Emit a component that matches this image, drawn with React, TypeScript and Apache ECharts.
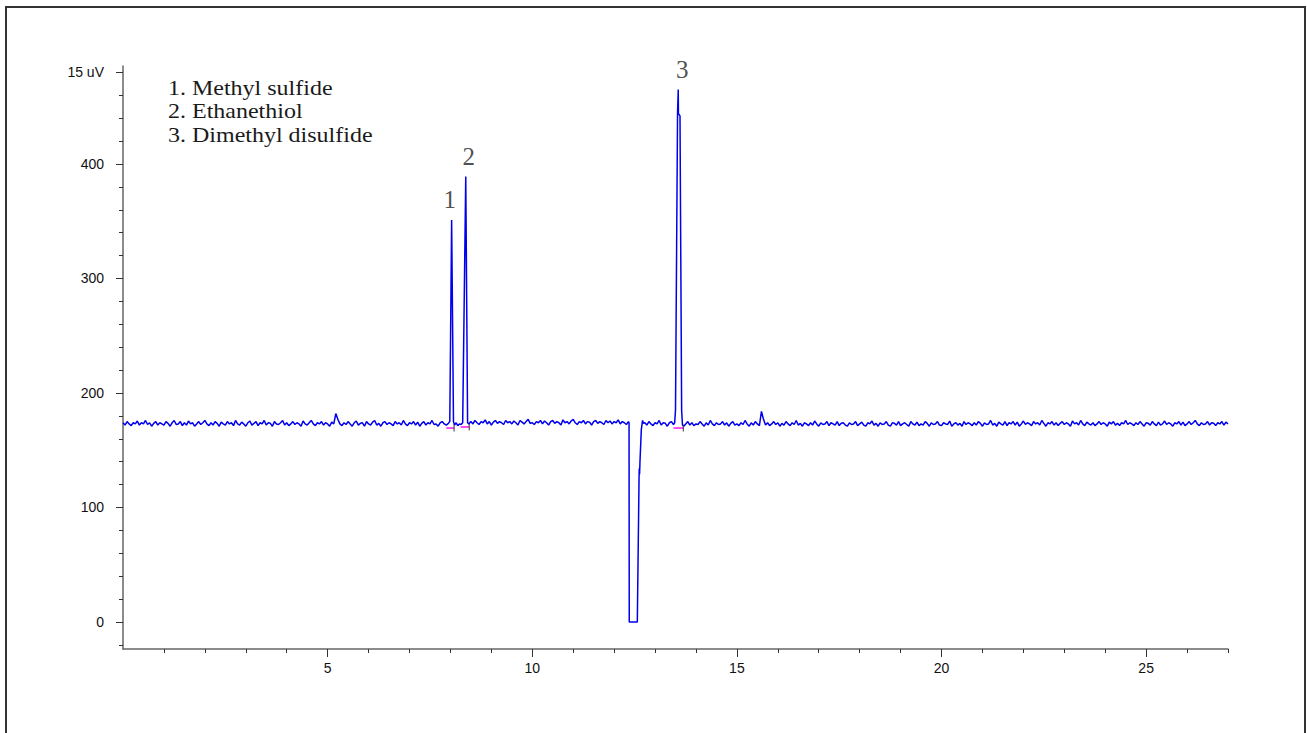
import { useEffect, useRef } from "react";
import * as echarts from "echarts";

// ---- data (minutes, µV-scale units) ----
const sampleStep = 0.05;

const baselineStartA = 0;
const baselineA = [
  174,172,175,173,171.5,174,173,175.5,172,174,173,176,172.5,174,171,173.5,175,172,174,173,
  172,175,173.5,171,174,176,172.5,173,175,171.5,174,172,175.5,173,174,171,173,175,172.5,174,
  176,173,171.5,174,172,175,173.5,171,174.5,173,172,175,173,174,171.5,176,173,172,174.5,173,
  171,174,175.5,172,173.5,175,171.5,174,173,176,172,174,173.5,171,175,173,172.5,174,176,172,
  174,171.5,173,175,172.5,174,173,171,175.5,173,172,174,176,173,171.5,174,173,175,172,174,
  173,171,174.5,173,182,177,173,171.5,174,172.5,175,173,171,174,175.5,172,173.5,174,171,175,
  173,172,174.5,176,172,173.5,171,174,175,172.5,174,173,171.5,175,173,174,172,176,173,171.5,
  174,173,175,172,174.5,171,173.5,175,172,174,173,176,172.5,173,171,174,175,173,172,
];

const peaks12Points: [number, number][] = [
  [7.95, 173.5], [7.985, 175], [8.03, 351], [8.075, 175], [8.1, 172], [8.14, 174],
  [8.18, 171.5], [8.22, 173], [8.26, 172.5], [8.3, 174], [8.375, 389], [8.42, 174], [8.45, 173],
];

const baselineStartB = 8.5;
const baselineB = [
  175,173,176,174,172.5,175,174,176.5,173,175,172,174.5,176,173.5,175,174,172.5,176,174,175,
  173,175.5,174,172,176,174.5,173,175,177,173.5,174,172.5,175,174,176,173,175.5,174,172,175,
  176,173.5,175,174,172,176.5,174,175,173,175.5,177,174,172.5,175,174,176,173,175,174.5,172,
  175,176,173.5,175,174,172.5,176,174,175.5,173,175,174,176.5,173,175,174,172.5,175,
];

const dipPoints: [number, number][] = [
  [12.365, 174], [12.37, 0], [12.567, 0], [12.61, 128], [12.615, 134], [12.622, 129],
  [12.632, 140], [12.665, 168], [12.695, 176], [12.72, 173.5],
];

const baselineStartC = 12.75;
const baselineC = [174,172,175,173,171.5,174,173,176,172,174,173.5,171,174,175,172.5];

const peak3Points: [number, number][] = [
  [13.48, 174], [13.5, 185], [13.55, 444], [13.567, 465], [13.572, 444], [13.61, 442],
  [13.65, 185], [13.67, 172],
];

const baselineStartD = 13.7;
const baselineD = [
  171,173,175,172,174,171.5,173,172.5,175,173,171,174,172,176,173,171.5,174,172.5,173,175,
  172,174,171,173.5,175,172,173,171.5,174,172.5,176,173,171,174,172,175,173,171.5,184,177,
  172,174,171.5,173,175,172.5,174,171,173.5,172,175,173,171.5,174,172.5,176,172,173.5,171,174,
  173,171.5,174,172,175.5,173,171,174,172.5,173,175,171.5,174,173,172,175,171.5,173.5,174,172,
  171,174,172.5,173,175,171.5,173,174.5,172,171,174,173,175.5,172,173.5,171,174,172.5,173,175,
  172,171,174,173.5,172,175,171.5,173,174,172.5,171,175,173,172,174.5,171.5,173,172,175,173.5,
  171,174,172.5,173,175,172,171.5,174,173,172.5,175.5,171,173,174,172,173.5,171,175,172.5,174,
  173,171.5,174,172,175,173.5,171,174,172.5,173,176,172,173.5,171,174.5,173,172,175,171.5,174,
  173,175,172,174.5,171,173,175.5,172.5,174,173,171.5,175,173,174,172,176,173.5,171,174,173,
  175,172,174,171.5,173.5,175,172.5,174,173,171,175.5,173,174,172,176,173,171.5,174.5,173,172,
  174,171.5,173,175,172.5,174,173,171,174.5,173,175,172,173.5,171.5,174,173,176,172.5,174,173,
  171.5,174,172.5,175,173,171,174,173.5,172,175,173,171.5,174.5,172,173,175.5,172.5,174,173,171,
  174,173,175,172,174.5,171.5,173,175,172.5,174,176,173,171.5,174,172.5,173,175,172,174,173.5,
  171.5,174,173,175,172,174.5,173,
];

const integrationStarts = [7.9, 8.25, 13.45];
const integrationEnds = [8.09, 8.46, 13.69];
const integrationLevels = [169.4, 170.3, 169.4];

const peakNames = ["1", "2", "3"];
const peakTimes = [8.03, 8.375, 13.567];
const peakHeights = [351, 389, 465];

const legendLines = ["1. Methyl sulfide", "2. Ethanethiol", "3. Dimethyl disulfide"];

const xMajorTicks = [5, 10, 15, 20, 25];
const xMinorTicks = [1, 2, 3, 4, 6, 7, 8, 9, 11, 12, 13, 14, 16, 17, 18, 19, 21, 22, 23, 24, 26, 27];
const yMajorTicks = [0, 100, 200, 300, 400, 480];
const yMinorTicks = [-20, 20, 40, 60, 80, 120, 140, 160, 180, 220, 240, 260, 280, 320, 340, 360, 380, 420, 440, 460];
const yTopLabel = "15 uV";

const X_MIN = 0;
const X_MAX = 27;
const Y_MIN = -23.6;
const Y_MAX = 485.6;

function segment(start: number, values: number[]): [number, number][] {
  return values.map((v, i) => [Number((start + i * sampleStep).toFixed(3)), v]);
}

export default function App() {
  const ref = useRef<HTMLDivElement>(null);

  useEffect(() => {
    document.body.style.margin = "0";
    if (!ref.current) return;
    const chart = echarts.init(ref.current, undefined, { renderer: "svg" });

    const signal: [number, number][] = [
      ...segment(baselineStartA, baselineA),
      ...peaks12Points,
      ...segment(baselineStartB, baselineB),
      ...dipPoints,
      ...segment(baselineStartC, baselineC),
      ...peak3Points,
      ...segment(baselineStartD, baselineD),
    ];

    const integrationSeries = integrationStarts.map((s, i) => ({
      type: "line",
      xAxisIndex: 0,
      yAxisIndex: 0,
      showSymbol: false,
      silent: true,
      z: 3,
      lineStyle: { color: "#ff22ee", width: 1.6 },
      data: [
        [s, integrationLevels[i]],
        [integrationEnds[i], integrationLevels[i]],
      ],
    }));
    const endMarkSeries = integrationEnds.map((e, i) => ({
      type: "line",
      xAxisIndex: 0,
      yAxisIndex: 0,
      showSymbol: false,
      silent: true,
      z: 4,
      lineStyle: { color: "#333", width: 1 },
      data: [
        [e, integrationLevels[i] - 3],
        [e, integrationLevels[i] + 3],
      ],
    }));

    const labelOffsets = [[-2, 0], [3, 0], [4, 0]];

    const axisColor = "#666";
    const tickColor = "#333";
    const sansFont = "Liberation Sans, Arial, sans-serif";
    const serifFont = "Liberation Serif, Times New Roman, serif";

    chart.setOption({
      animation: false,
      backgroundColor: "#fff",
      grid: { left: 123, right: 79, top: 66, bottom: 84, containLabel: false },
      xAxis: [
        {
          type: "value",
          min: X_MIN,
          max: X_MAX,
          position: "bottom",
          axisLine: { show: true, onZero: false, lineStyle: { color: axisColor, width: 1.5 } },
          axisTick: { show: true, customValues: xMinorTicks, length: 4, lineStyle: { color: tickColor } },
          axisLabel: { show: false },
          splitLine: { show: false },
        },
        {
          type: "value",
          min: X_MIN,
          max: X_MAX,
          position: "bottom",
          axisLine: { show: false, onZero: false },
          axisTick: { show: true, customValues: xMajorTicks, length: 8, lineStyle: { color: tickColor } },
          axisLabel: {
            customValues: xMajorTicks,
            fontSize: 14,
            color: "#111",
            margin: 12,
            fontFamily: sansFont,
          },
          splitLine: { show: false },
        },
      ],
      yAxis: [
        {
          type: "value",
          min: Y_MIN,
          max: Y_MAX,
          position: "left",
          axisLine: { show: true, onZero: false, lineStyle: { color: axisColor, width: 1.5 } },
          axisTick: { show: true, customValues: yMinorTicks, length: 4, lineStyle: { color: tickColor } },
          axisLabel: { show: false },
          splitLine: { show: false },
        },
        {
          type: "value",
          min: Y_MIN,
          max: Y_MAX,
          position: "left",
          axisLine: { show: false, onZero: false },
          axisTick: { show: true, customValues: yMajorTicks, length: 7, lineStyle: { color: tickColor } },
          axisLabel: {
            customValues: yMajorTicks,
            fontSize: 14,
            color: "#111",
            margin: 19,
            fontFamily: sansFont,
            formatter: (v: number) => (v === 480 ? yTopLabel : String(v)),
          },
          splitLine: { show: false },
        },
      ],
      series: [
        {
          type: "line",
          xAxisIndex: 0,
          yAxisIndex: 0,
          showSymbol: false,
          silent: true,
          z: 2,
          lineStyle: { color: "#0000ee", width: 1.5 },
          data: signal,
        },
        ...integrationSeries,
        ...endMarkSeries,
        {
          type: "scatter",
          xAxisIndex: 0,
          yAxisIndex: 0,
          symbolSize: 0,
          silent: true,
          data: peakNames.map((n, i) => ({
            name: n,
            value: [peakTimes[i], peakHeights[i]],
            label: { offset: labelOffsets[i] },
          })),
          label: {
            show: true,
            position: "top",
            distance: 8,
            formatter: (p: any) => p.name,
            fontFamily: serifFont,
            fontSize: 25,
            color: "#222",
          },
        },
      ],
      graphic: [
        {
          type: "rect",
          shape: { x: 6, y: 7, width: 1299, height: 740 },
          style: { fill: "none", stroke: "#333", lineWidth: 2 },
          silent: true,
        },
        ...legendLines.map((t, i) => ({
          type: "text",
          x: 168,
          y: 88 + i * 23.5,
          scaleX: 1.2,
          style: {
            text: t,
            fontFamily: serifFont,
            fontSize: 20,
            fill: "#1a1a1a",
            verticalAlign: "middle",
          },
          silent: true,
        })),
      ],
    });

    return () => chart.dispose();
  }, []);

  return <div ref={ref} style={{ width: 1307, height: 733 }} />;
}
